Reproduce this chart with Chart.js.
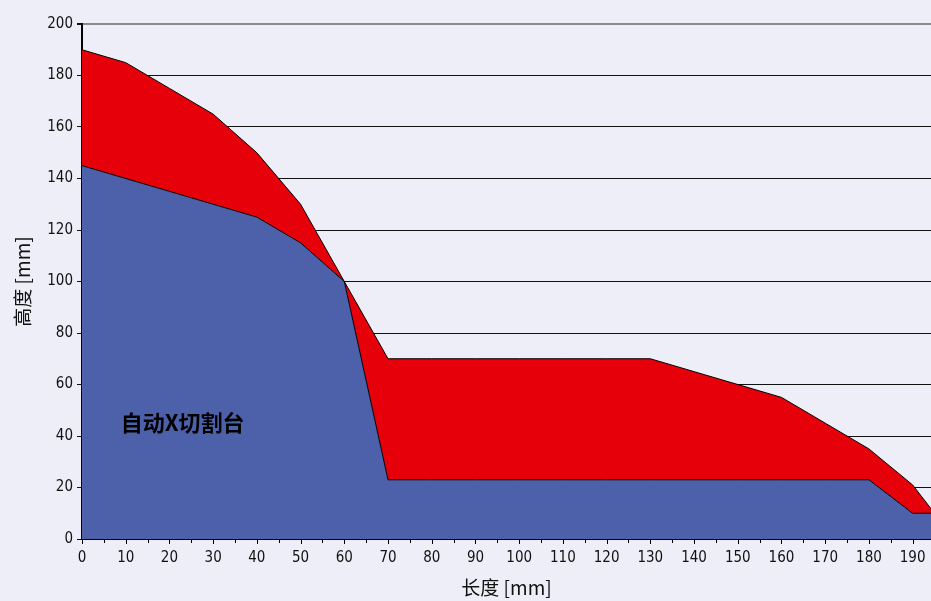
<!DOCTYPE html>
<html lang="zh">
<head>
  <meta charset="utf-8">
  <script src="https://cdn.jsdelivr.net/npm/chart.js@4.4.1/dist/chart.umd.min.js"></script>
  <title>长度 / 高度</title>
</head>
<body>
  <div id="wrap"><canvas id="area-chart"></canvas></div>
</body>
</html>

<style>
  html, body {
    margin: 0;
    padding: 0;
    background: #eeeef8;
  }
  #wrap {
    width: 931px;
    height: 601px;
  }
</style>

<script>
// lengths along the x axis [mm]
const lengths = [0, 10, 20, 30, 40, 50, 60, 70, 80, 90, 100, 110, 120, 130, 140, 150, 160, 170, 180, 190, 195];
// upper (red) envelope and lower (blue) envelope [mm]
const upper = [190, 185, 175, 165, 150, 130, 100, 70, 70, 70, 70, 70, 70, 70, 65, 60, 55, 45, 35, 21, 10];
const lower = [145, 140, 135, 130, 125, 115, 100, 23, 23, 23, 23, 23, 23, 23, 23, 23, 23, 23, 23, 10, 10];
const yTicks = [0, 20, 40, 60, 80, 100, 120, 140, 160, 180, 200];
const label = { text: "自动X切割台", x: 23, y: 45 };

const tickFont = { family: "'Liberation Sans Narrow', 'DejaVu Sans Condensed', sans-serif", size: 15 };
const titleFont = { family: "'Noto Sans CJK SC', 'Liberation Sans Narrow', sans-serif", size: 19 };

const toXY = (ys) => lengths.map((x, i) => ({ x: x, y: ys[i] }));

// x tick marks: long ones every 10, short ones in between
const tickMarks = {
  id: 'tickMarks',
  afterDraw(chart) {
    const ctx = chart.ctx;
    const xs = chart.scales.x;
    const bottom = chart.chartArea.bottom;
    ctx.save();
    ctx.strokeStyle = '#000';
    ctx.lineWidth = 1;
    for (let v = 0; v <= xs.max; v += 5) {
      const px = Math.round(xs.getPixelForValue(v)) + 0.5;
      ctx.beginPath();
      ctx.moveTo(px, bottom);
      ctx.lineTo(px, bottom + (v % 10 === 0 ? 5 : 4));
      ctx.stroke();
    }
    // the plot label
    ctx.font = "bold 22px 'Noto Sans CJK SC', sans-serif";
    ctx.fillStyle = '#000';
    ctx.textAlign = 'center';
    ctx.textBaseline = 'middle';
    ctx.fillText(label.text, xs.getPixelForValue(label.x), chart.scales.y.getPixelForValue(label.y));
    ctx.restore();
  }
};

const config = {
  type: 'line',
  data: {
    datasets: [
      {
        label: 'lower',
        data: toXY(lower),
        backgroundColor: 'rgb(77, 96, 170)',
        borderColor: '#000',
        borderWidth: 1,
        pointRadius: 0,
        fill: 'origin',
        tension: 0,
      },
      {
        label: 'upper',
        data: toXY(upper),
        backgroundColor: 'rgb(230, 0, 10)',
        borderColor: '#000',
        borderWidth: 1,
        pointRadius: 0,
        fill: '-1',
        tension: 0,
      },
    ]
  },
  options: {
    responsive: true,
    maintainAspectRatio: false,
    animation: false,
    layout: { padding: { top: 24, right: 0, left: 0, bottom: 0 } },
    plugins: {
      legend: { display: false },
      tooltip: { enabled: false },
      filler: { drawTime: 'beforeDatasetsDraw' },
    },
    scales: {
      x: {
        type: 'linear',
        min: 0,
        max: 194.2,
        afterBuildTicks: (s) => { s.ticks = lengths.filter(v => v % 10 === 0 && v <= 190).map(v => ({ value: v })); },
        afterFit: (s) => { s.height = 62; s.paddingRight = 0; },
        grid: { display: true, drawOnChartArea: false, drawTicks: true, tickLength: 10, tickColor: 'rgba(0,0,0,0)' },
        border: { color: '#000', width: 2 },
        ticks: { color: '#111', font: tickFont, padding: 0, maxRotation: 0, autoSkip: false },
        title: { display: true, text: '长度 [mm]', color: '#111', font: titleFont, padding: { top: 0, bottom: 2 } },
      },
      y: {
        type: 'linear',
        min: 0,
        max: 200,
        afterBuildTicks: (s) => { s.ticks = yTicks.map(v => ({ value: v })); },
        afterFit: (s) => { s.width = 82; },
        grid: {
          color: (c) => c.tick && c.tick.value === 200 ? '#8a8a8a' : '#111',
          lineWidth: (c) => c.tick && c.tick.value === 200 ? 2 : 1,
          tickColor: '#111',
          tickLength: 5,
          drawOnChartArea: true,
        },
        border: { color: '#000', width: 2 },
        ticks: { color: '#111', font: tickFont, padding: 4 },
        title: { display: true, text: '高度 [mm]', color: '#111', font: titleFont, padding: { top: 11, bottom: 0 } },
      },
    },
  },
  plugins: [tickMarks],
};

var chart = new Chart(document.getElementById('area-chart'), config);
</script>
